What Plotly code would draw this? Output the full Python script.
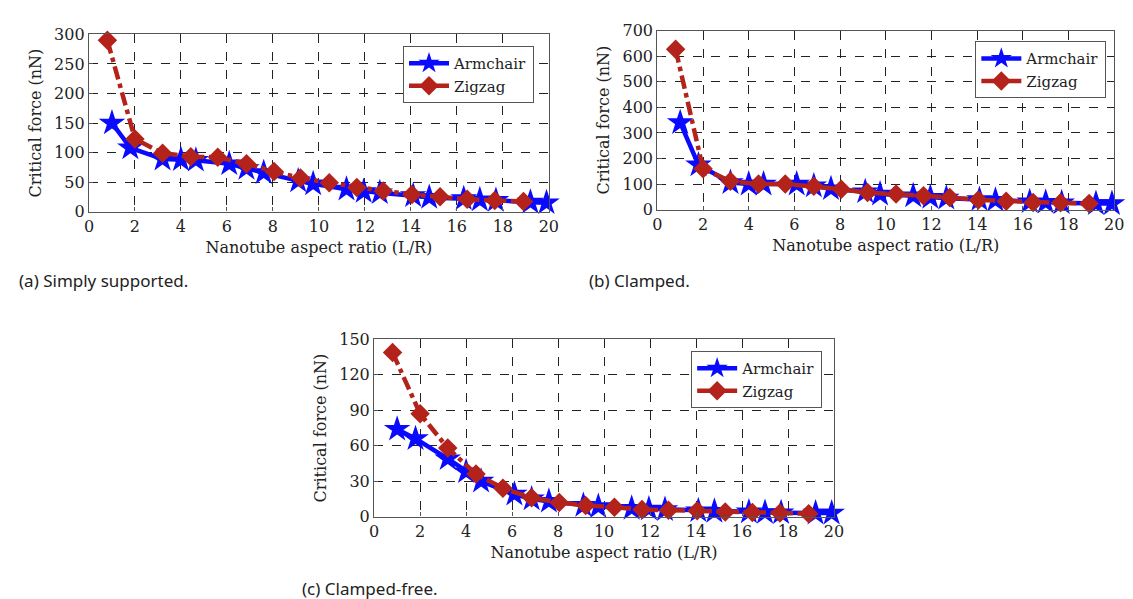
import plotly.graph_objects as go

# ---- data ----
aspect_armchair = [1.0, 1.8, 3.2, 4.0, 4.65, 6.1, 6.85, 7.6, 9.1, 9.75, 11.2, 11.95, 12.65, 14.1, 14.8, 16.3, 17.0, 17.7, 19.2, 19.9]
aspect_zigzag = [0.8, 2.0, 3.2, 4.43, 5.6, 6.85, 8.05, 9.2, 10.45, 11.65, 12.8, 14.05, 15.27, 16.45, 17.65, 18.9]

simply_armchair = [150, 108, 89, 88, 87, 81, 73, 66, 52, 47, 38, 34, 32, 27, 24, 22, 20, 19, 16, 15]
simply_zigzag = [290, 123, 99, 93, 92, 81, 68, 57, 49, 41, 35, 29, 25, 21, 19, 17]

clamped_armchair = [340, 175, 106, 100, 100, 100, 93, 82, 70, 61, 54, 48, 45, 40, 37, 31, 29, 27, 24, 24]
clamped_zigzag = [627, 160, 111, 100, 100, 92, 80, 67, 61, 54, 48, 38, 33, 28, 27, 24]

cfree_armchair = [74, 66, 49, 38, 30, 19, 15, 13, 9.5, 8.5, 7, 6.5, 6, 5, 4.5, 4, 3.5, 3.3, 3, 3]
cfree_zigzag = [139, 87, 58, 36, 24, 16, 12, 9.5, 8, 6, 5.5, 5, 4, 3.5, 3, 2.5]

x_ticks = [0, 2, 4, 6, 8, 10, 12, 14, 16, 18, 20]
y_ranges = [[0, 300], [0, 700], [0, 150]]
y_dticks = [50, 100, 30]
captions = ["(a) Simply supported.", "(b) Clamped.", "(c) Clamped-free."]
series_names = ["Armchair", "Zigzag"]

# ---- style ----
BLUE = "#0a0aff"
RED = "#b3231b"
SERIF = "DejaVu Serif, Liberation Serif, serif"
SANS = "Noto Sans, Open Sans, sans-serif"
W, H = 1133, 599

panels = [
    dict(arm=simply_armchair, zig=simply_zigzag, px=(77, 543), py=(18, 201), leg=(528, 30)),
    dict(arm=clamped_armchair, zig=clamped_zigzag, px=(653, 1116), py=(14, 199), leg=(1108, 25)),
    dict(arm=cfree_armchair, zig=cfree_zigzag, px=(366, 832), py=(333, 516), leg=(820, 345)),
]

fig = go.Figure()
layout = dict(
    width=W, height=H, margin=dict(l=0, r=0, t=0, b=0),
    paper_bgcolor="white", plot_bgcolor="white", showlegend=True,
)

for i, p in enumerate(panels):
    sfx = "" if i == 0 else str(i + 1)
    legname = "legend" + sfx
    fig.add_trace(go.Scatter(
        x=aspect_armchair, y=p["arm"], name=series_names[0], mode="lines+markers",
        line=dict(color=BLUE, width=4.5),
        marker=dict(symbol="star", size=20, color=BLUE, line=dict(width=0)),
        xaxis="x" + sfx, yaxis="y" + sfx, legend=legname, cliponaxis=False,
    ))
    fig.add_trace(go.Scatter(
        x=aspect_zigzag, y=p["zig"], name=series_names[1], mode="lines+markers",
        line=dict(color=RED, width=4.5, dash="dashdot"),
        marker=dict(symbol="diamond", size=15, color=RED, line=dict(width=0)),
        xaxis="x" + sfx, yaxis="y" + sfx, legend=legname, cliponaxis=False,
    ))
    xd = [p["px"][0] / W, p["px"][1] / W]
    yd = [1 - p["py"][1] / H, 1 - p["py"][0] / H]
    common = dict(
        showline=True, mirror=True, linecolor="#555555", linewidth=1.3,
        showgrid=True, gridcolor="#222222", gridwidth=1, griddash="dash",
        zeroline=False, ticks="inside", ticklen=4, tickcolor="#555555",
        tickfont=dict(family=SERIF, size=16, color="#222222"),
    )
    layout["xaxis" + sfx] = dict(
        domain=xd, range=[0, 20], tickvals=x_ticks, anchor="y" + sfx,
        title=dict(text="Nanotube aspect ratio (L/R)", font=dict(family=SERIF, size=16, color="#222222"), standoff=6),
        **common,
    )
    layout["yaxis" + sfx] = dict(
        domain=yd, range=y_ranges[i], dtick=y_dticks[i], anchor="x" + sfx,
        title=dict(text="Critical force (nN)", font=dict(family=SERIF, size=16, color="#222222"), standoff=8),
        **common,
    )
    layout[legname] = dict(
        x=p["leg"][0] / W, y=1 - p["leg"][1] / H, xanchor="right", yanchor="top",
        bordercolor="#555555", borderwidth=1, bgcolor="white",
        font=dict(family=SERIF, size=15, color="#222222"),
        tracegroupgap=0, itemwidth=40,
    )

fig.update_layout(**layout)

cap_pos = [(4, 272), (582, 272), (291, 590)]
for (cx, cy), txt in zip(cap_pos, captions):
    fig.add_annotation(
        x=cx / W, y=1 - cy / H, xref="paper", yref="paper", text=txt, showarrow=False,
        xanchor="left", yanchor="middle", font=dict(family=SANS, size=17, color="#222222"),
    )

fig.write_html("out.html")
